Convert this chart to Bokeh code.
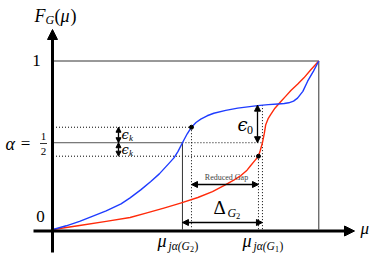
from bokeh.plotting import figure
from bokeh.models import Arrow, NormalHead, Range1d
from bokeh.core.properties import value
from bokeh.embed import file_html
from bokeh.resources import INLINE

# ---- data ----
blue_x = [0, 0.05, 0.1, 0.143, 0.2, 0.256, 0.29, 0.33, 0.368, 0.4, 0.432, 0.455, 0.47, 0.487, 0.505, 0.521,
          0.538, 0.556, 0.58, 0.605, 0.65, 0.695, 0.74, 0.77, 0.81, 0.846, 0.87, 0.887, 0.905, 0.92, 0.94,
          0.958, 0.98, 1.0]
blue_y = [0, 0.022, 0.048, 0.075, 0.11, 0.152, 0.188, 0.235, 0.285, 0.33, 0.385, 0.425, 0.462, 0.515, 0.568, 0.607,
          0.635, 0.655, 0.675, 0.69, 0.707, 0.72, 0.729, 0.735, 0.741, 0.745, 0.748, 0.752, 0.762, 0.78, 0.82,
          0.88, 0.94, 1.0]
red_x = [0, 0.1, 0.2, 0.29, 0.35, 0.417, 0.48, 0.545, 0.6, 0.643, 0.68, 0.707, 0.73, 0.744, 0.76, 0.773, 0.78,
         0.788, 0.795, 0.8, 0.81, 0.82, 0.835, 0.853, 0.875, 0.895, 0.92, 0.944, 0.97, 1.0]
red_y = [0, 0.024, 0.048, 0.071, 0.097, 0.127, 0.157, 0.19, 0.225, 0.26, 0.293, 0.32, 0.352, 0.38, 0.41, 0.435, 0.47,
         0.515, 0.57, 0.62, 0.66, 0.685, 0.72, 0.752, 0.79, 0.825, 0.862, 0.9, 0.948, 1.0]

alpha_y = 0.515
eps_up = 0.607
eps_lo = 0.435
blue_cross_x = 0.487
blue_dot_x = 0.521
red_dot_x = 0.773
red_cross_x = 0.788
plateau_y = 0.738

W, H = 374, 256
OX, OY = 0, 0          # page px of the figure's top-left corner
X0, X1 = 52.5, 318.3   # page px of data x=0,1
Y0, Y1 = 229.0, 60.5   # page px of data y=0,1
sx = X1 - X0
sy = Y0 - Y1

def dx(px):
    return (px - X0) / sx

def dy(py):
    return (Y0 - py) / sy

p = figure(width=W, height=H, output_backend="svg", toolbar_location=None,
           x_range=Range1d(dx(OX), dx(OX + W)), y_range=Range1d(dy(OY + H), dy(OY)),
           min_border=0)
p.axis.visible = False
p.grid.visible = False
p.outline_line_color = None
p.background_fill_color = "white"

BLACK = "black"
SERIF = "Liberation Serif"

# box
p.line([0, 1, 1], [1, 1, 0], line_color="#333333", line_width=1)

# guide lines
p.line([0, blue_cross_x], [alpha_y, alpha_y], line_color="#555555", line_width=1)
p.line([blue_cross_x, red_cross_x], [alpha_y, alpha_y], line_color=BLACK, line_width=1, line_dash="1 2")
p.line([0, blue_dot_x], [eps_up, eps_up], line_color=BLACK, line_width=1, line_dash="1 2")
p.line([0, red_dot_x], [eps_lo, eps_lo], line_color=BLACK, line_width=1, line_dash="1 2")
p.line([blue_cross_x, blue_cross_x], [alpha_y, 0], line_color="#333333", line_width=1)
p.line([blue_dot_x, blue_dot_x], [eps_up, 0], line_color=BLACK, line_width=1, line_dash="1 2")
p.line([red_dot_x, red_dot_x], [eps_lo, 0], line_color=BLACK, line_width=1, line_dash="1 2")
p.line([red_cross_x, red_cross_x], [plateau_y, 0], line_color=BLACK, line_width=1, line_dash="1 2")

# curves
p.line(red_x, red_y, line_color="#ff2a0a", line_width=1.4, line_join="round")
p.line(blue_x, blue_y, line_color="#1f3cff", line_width=1.4, line_join="round")

# dots
p.scatter([blue_dot_x, red_dot_x], [eps_up, eps_lo], size=4, color=BLACK)

# axes with arrows
p.add_layout(Arrow(end=NormalHead(size=10, fill_color=BLACK, line_color=BLACK),
                   x_start=dx(52), y_start=dy(252), x_end=dx(52), y_end=dy(29),
                   line_width=3, line_color=BLACK))
p.add_layout(Arrow(end=NormalHead(size=10, fill_color=BLACK, line_color=BLACK),
                   x_start=dx(33), y_start=dy(230.5), x_end=dx(354), y_end=dy(230.5),
                   line_width=3, line_color=BLACK))

def darrow(x1, y1, x2, y2, size=6, lw=1.3):
    p.add_layout(Arrow(start=NormalHead(size=size, fill_color=BLACK, line_color=BLACK),
                       end=NormalHead(size=size, fill_color=BLACK, line_color=BLACK),
                       x_start=x1, y_start=y1, x_end=x2, y_end=y2,
                       line_width=lw, line_color=BLACK))

ek_x = dx(118)
darrow(ek_x, eps_up, ek_x, alpha_y, size=5)
darrow(ek_x, alpha_y, ek_x, eps_lo, size=5)
darrow(dx(257), plateau_y, dx(257), alpha_y, size=6)
darrow(blue_dot_x, dy(184), red_dot_x, dy(184), size=6)
darrow(blue_cross_x, dy(222), red_cross_x, dy(222), size=6)

def txt(px, py, s, size, italic=False, align="left", color=BLACK, font=SERIF):
    p.text(x=[dx(px)], y=[dy(py)], text=[s], text_font=value(font),
           text_font_size=f"{size}px", text_font_style="italic" if italic else "normal",
           text_align=align, text_baseline="middle", text_color=color)

# F_G(mu)
txt(34, 15, "F", 18, italic=True)
txt(45, 19, "G", 12, italic=True)
txt(54, 15, "(", 18)
txt(60, 15, "μ", 18, italic=True)
txt(70, 15, ")", 18)

# tick-like labels
txt(36, 60, "1", 17, align="center")
txt(40, 216, "0", 17, align="center")

# alpha = 1/2
txt(5, 143, "α", 18, italic=True)
txt(25, 143, "=", 17, align="center")
txt(43, 136, "1", 11, align="center")
p.line([dx(39.5), dx(46.5)], [dy(143), dy(143)], line_color=BLACK, line_width=0.8)
txt(43, 151, "2", 11, align="center")

# eps_k labels
txt(121, 134, "ϵ", 13, italic=True, font="DejaVu Serif")
txt(128.5, 137, "k", 9, italic=True)
txt(121, 149, "ϵ", 13, italic=True, font="DejaVu Serif")
txt(128.5, 152, "k", 9, italic=True)

# eps_0
txt(237, 124, "ϵ", 18, italic=True, font="DejaVu Serif")
txt(246.5, 129, "0", 12)

# Reduced Gap
txt(226, 177, "Reduced Gap", 8, align="center", color="#444444")

# Delta_G2
txt(213, 207, "Δ", 19)
txt(227, 212, "G", 12, italic=True)
txt(235.5, 215, "2", 8.5)

# mu labels
def mu_label(px, sub):
    txt(px, 240, "μ", 18, italic=True)
    txt(px + 11, 245, "jα(G", 11.5, italic=True)
    txt(px + 32.5, 248.5, sub, 8)
    txt(px + 37, 245, ")", 11.5)

mu_label(157, "2")
mu_label(242, "1")

# axis label mu
txt(360, 228, "μ", 17, italic=True)

open("out.html", "w").write(file_html(p, INLINE))
